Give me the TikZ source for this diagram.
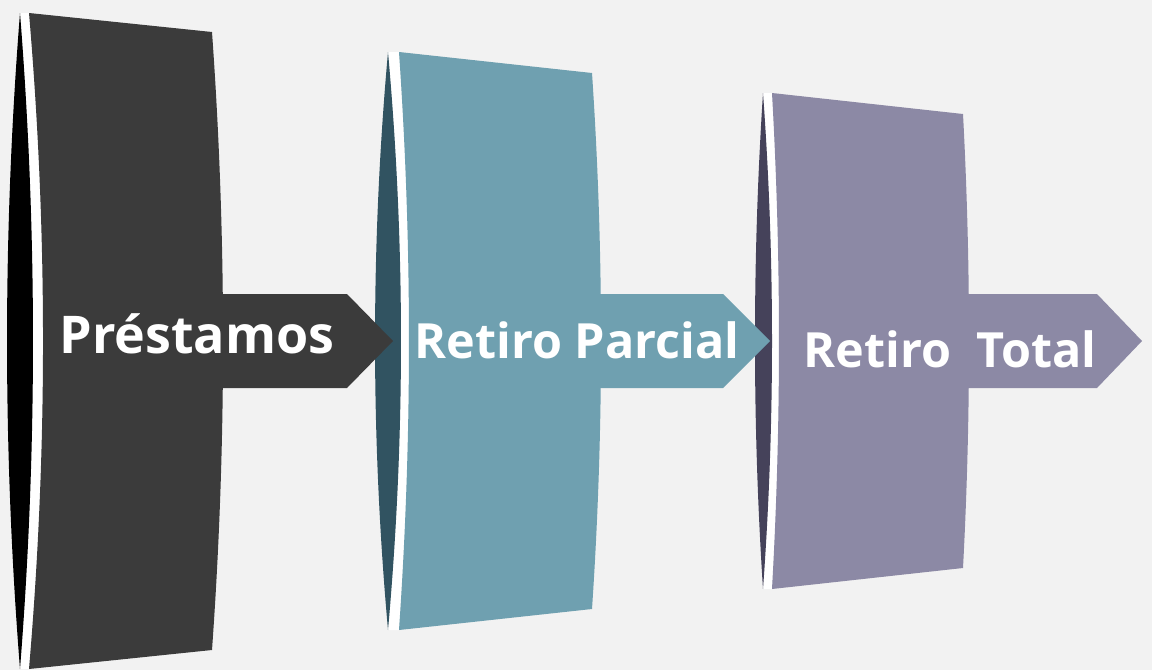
\documentclass[tikz,border=0pt]{standalone}
\usepackage{fontspec}
\setmainfont{Open Sans}
\definecolor{bgcol}{HTML}{F2F2F2}
\definecolor{darkpanel}{HTML}{3B3B3B}
\definecolor{tealpanel}{HTML}{6FA0B0}
\definecolor{teallens}{HTML}{315361}
\definecolor{violetpanel}{HTML}{8C89A5}
\definecolor{violetlens}{HTML}{45425A}
\tikzset{
  steplabel/.style={anchor=base,text=white,font=\fontsize{#1}{60}\selectfont\bfseries,inner sep=0pt},
  steplabel/.default=48.5,
}
\begin{document}
\begin{tikzpicture}[x=1pt,y=-1pt]
	\fill[bgcol] (0,0) rectangle (1152,670);
	\useasboundingbox (0,0) rectangle (1152,670);
	% first step
	\fill[white] (20,13) .. controls (37.3,232) and (37.3,450) .. (20,669) -- (29,669) .. controls (47.7,450) and (47.7,232) .. (29,13) -- cycle;
	\fill[black] (20,13) .. controls (37.3,232) and (37.3,450) .. (20,669) .. controls (2.7,450) and (2.7,232) .. (20,13);
	\fill[darkpanel] (29,13) -- (212,32) .. controls (226.7,238) and (226.7,444) .. (212,650) -- (29,669) .. controls (47.7,450) and (47.7,232) .. (29,13);
	% second step
	\fill[white] (388,52) .. controls (405.3,245) and (405.3,437) .. (388,630) -- (399,630) .. controls (412.3,437) and (412.3,245) .. (399,52) -- cycle;
	\fill[teallens] (388,52) .. controls (405.3,245) and (405.3,437) .. (388,630) .. controls (370.7,437) and (370.7,245) .. (388,52);
	\fill[tealpanel] (399,52) -- (592,73) .. controls (604,252) and (604,430) .. (592,609) -- (399,630) .. controls (412.3,437) and (412.3,245) .. (399,52);
	% third step
	\fill[white] (763,93) .. controls (775,258) and (775,424) .. (763,589) -- (772,589) .. controls (781.3,424) and (781.3,258) .. (772,93) -- cycle;
	\fill[violetlens] (763,93) .. controls (775,258) and (775,424) .. (763,589) .. controls (752.3,424) and (752.3,258) .. (763,93);
	\fill[violetpanel] (772,93) -- (963,114) .. controls (971,265) and (971,417) .. (963,568) -- (772,589) .. controls (781.3,424) and (781.3,258) .. (772,93);
	% arrows
	\fill[darkpanel] (200,294) -- (347,294) -- (393,341) -- (347,388) -- (200,388) -- cycle;
	\fill[tealpanel] (590,294) -- (723,294) -- (770,341) -- (723,388) -- (590,388) -- cycle;
	\fill[violetpanel] (960,294) -- (1097,294) -- (1142,341) -- (1097,388) -- (960,388) -- cycle;
	\node[steplabel=52] (prestamos) at (197,353) {Préstamos};
	\node[steplabel] (parcial) at (577,358) {Retiro Parcial};
	\node[steplabel] (total) at (950,367) {Retiro\ \ Total};
\end{tikzpicture}
\end{document}
